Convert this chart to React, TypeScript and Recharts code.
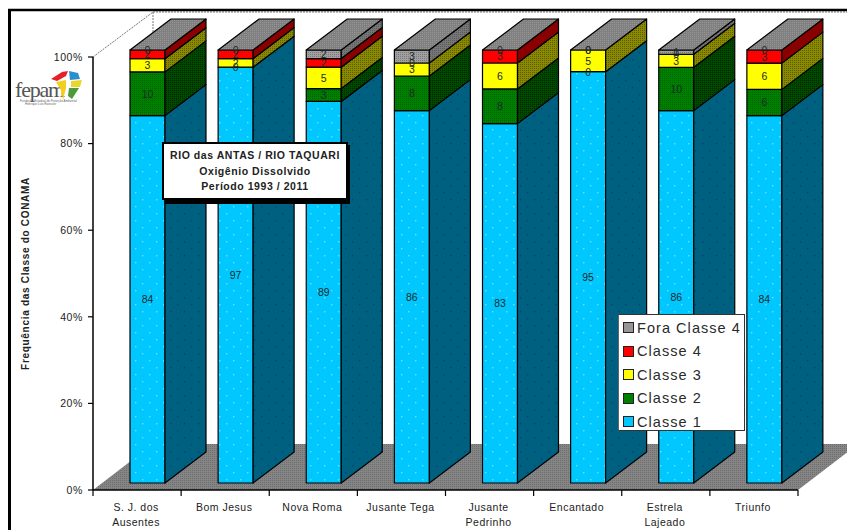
import React from 'react';
import { BarChart, Bar, XAxis, YAxis, Legend, LabelList, usePlotArea } from 'recharts';

const categories = [
  'S. J. dos\nAusentes',
  'Bom Jesus',
  'Nova Roma',
  'Jusante Tega',
  'Jusante\nPedrinho',
  'Encantado',
  'Estrela\nLajeado',
  'Triunfo',
];
const classe1 = [84, 97, 89, 86, 83, 95, 86, 84];
const classe2 = [10, 0, 3, 8, 8, 0, 10, 6];
const classe3 = [3, 2, 5, 3, 6, 5, 3, 6];
const classe4 = [2, 2, 2, 0, 3, 0, 0, 3];
const foraClasse4 = [0, 0, 2, 3, 0, 0, 1, 0];
const yTicks = [0, 0.2, 0.4, 0.6, 0.8, 1];
const boxLines = ['RIO das ANTAS / RIO TAQUARI', 'Oxigênio Dissolvido', 'Período 1993 / 2011'];

const tableData = categories.map((name, i) => ({
  name,
  classe1: classe1[i],
  classe2: classe2[i],
  classe3: classe3[i],
  classe4: classe4[i],
  fora: foraClasse4[i],
}));

const seriesList = [
  { key: 'classe1', name: 'Classe 1', front: 'url(#cyanFront)', side: 'url(#cyanSide)', swatch: '#00c8ff' },
  { key: 'classe2', name: 'Classe 2', front: 'url(#greenFront)', side: 'url(#greenSide)', swatch: '#008000' },
  { key: 'classe3', name: 'Classe 3', front: '#ffff00', side: 'url(#yellowSide)', swatch: '#ffff00' },
  { key: 'classe4', name: 'Classe 4', front: '#ff0000', side: '#8a0000', swatch: '#ff0000' },
  { key: 'fora', name: 'Fora Classe 4', front: 'url(#grayFront)', side: 'url(#graySide)', swatch: '#969696' },
];

const FONT = '"Liberation Sans", Arial, sans-serif';
const WIDTH = 847;
const HEIGHT = 530;
const MARGIN = { top: 57, right: 49, bottom: 0, left: 0 };
const AXIS_W = 93;
const BAND = (WIDTH - AXIS_W - MARGIN.right) / categories.length;

// fake 3D: full floor depth, and the depth of each column sitting on it
const FLOOR_DX = 60;
const FLOOR_DY = 46;
const BAR_DX = 41;
const BAR_DY = 31;
const BAR_SHIFT_X = 10;
const BAR_SHIFT_Y = 7;

const dots = (id: string, bg: string, dot: string, size = 2, op = 1) => (
  <pattern id={id} width={size} height={size} patternUnits="userSpaceOnUse">
    <rect width={size} height={size} fill={bg} />
    <rect width={1} height={1} fill={dot} opacity={op} />
  </pattern>
);

const sparse = (id: string, bg: string, dot: string) => (
  <pattern id={id} width={14} height={14} patternUnits="userSpaceOnUse">
    <rect width={14} height={14} fill={bg} />
    <rect x={2} y={3} width={1.4} height={1.4} fill={dot} />
    <rect x={9} y={10} width={1.4} height={1.4} fill={dot} />
  </pattern>
);

const Patterns = () => (
  <defs>
    {sparse('cyanFront', '#00c8ff', '#66e0ff')}
    {sparse('cyanSide', '#00607f', '#003f8a')}
    {dots('greenFront', '#008000', '#005a00', 2, 0.7)}
    {dots('greenSide', '#004a00', '#002400')}
    {dots('yellowSide', '#8a8a00', '#5c5c00')}
    {dots('grayFront', '#a0a0a0', '#7a7a7a')}
    {dots('graySide', '#767676', '#5a5a5a')}
    {dots('topFace', '#808080', '#959595')}
    {dots('floorFace', '#858585', '#6e6e6e')}
  </defs>
);

const BackWalls = () => {
  const plot = usePlotArea();
  if (!plot) return null;
  const { x, y, width, height } = plot;
  const bottom = y + height;
  return (
    <g>
      <polygon
        points={`${x},${bottom} ${x + width},${bottom} ${x + width + FLOOR_DX},${bottom - FLOOR_DY} ${x + FLOOR_DX},${bottom - FLOOR_DY}`}
        fill="url(#floorFace)"
      />
      <path
        d={`M${x},${y} L${x + FLOOR_DX},${y - FLOOR_DY + 1} L${WIDTH},${y - FLOOR_DY + 1} M${x + FLOOR_DX},${y - FLOOR_DY + 1} L${x + FLOOR_DX},${bottom - FLOOR_DY}`}
        fill="none"
        stroke="#777"
        strokeWidth={1}
        strokeDasharray="2 1"
      />
    </g>
  );
};

const makeColumn = (front: string, side: string, withTop: boolean) => (props: any) => {
  const { width: w } = props;
  const x = props.x + BAR_SHIFT_X;
  const y = props.y - BAR_SHIFT_Y;
  const h = props.height;
  return (
    <g stroke="#000" strokeWidth={1.2} strokeLinejoin="round">
      {h > 0 && <rect x={x} y={y} width={w} height={h} fill={front} />}
      {h > 0 && (
        <polygon
          points={`${x + w},${y} ${x + w + BAR_DX},${y - BAR_DY} ${x + w + BAR_DX},${y + h - BAR_DY} ${x + w},${y + h}`}
          fill={side}
        />
      )}
      {withTop && (
        <polygon
          points={`${x},${y} ${x + BAR_DX},${y - BAR_DY} ${x + w + BAR_DX},${y - BAR_DY} ${x + w},${y}`}
          fill="url(#topFace)"
        />
      )}
    </g>
  );
};

const SegmentLabel = (props: any) => {
  const { x, y, width, height, value } = props;
  return (
    <text
      x={x + width / 2 + BAR_SHIFT_X}
      y={y + height / 2 - BAR_SHIFT_Y}
      textAnchor="middle"
      dominantBaseline="central"
      fontFamily={FONT}
      fontSize={10.5}
      fill="#1c2a2a"
    >
      {value}
    </text>
  );
};

const CategoryTick = (props: any) => {
  const { x, y, payload, index } = props;
  const left = x - BAND / 2;
  const axisY = y - 8;
  return (
    <g>
      <line x1={left} y1={axisY} x2={left} y2={axisY + 6} stroke="#000" strokeWidth={1.2} />
      {index === categories.length - 1 && (
        <line x1={left + BAND} y1={axisY} x2={left + BAND} y2={axisY + 6} stroke="#000" strokeWidth={1.2} />
      )}
      {String(payload.value)
        .split('\n')
        .map((line, i) => (
          <text
            key={line}
            x={x - 1}
            y={axisY + 21 + i * 15}
            textAnchor="middle"
            fontFamily={FONT}
            fontSize={10.5}
            letterSpacing={0.5}
            fill="#222"
          >
            {line}
          </text>
        ))}
    </g>
  );
};

const LegendBox = () => (
  <div
    style={{
      width: 127,
      height: 117,
      boxSizing: 'border-box',
      background: '#fff',
      border: '1px solid #333',
      borderLeftColor: '#666',
      padding: '1px 0 0 4px',
      fontFamily: FONT,
      fontSize: 14.5,
      letterSpacing: 1.05,
      color: '#2a2a2a',
    }}
  >
    {[...seriesList].reverse().map((s) => (
      <div key={s.key} style={{ display: 'flex', alignItems: 'center', height: 23.5, whiteSpace: 'nowrap' }}>
        <span
          style={{
            width: 11,
            height: 11,
            boxSizing: 'border-box',
            background: s.swatch,
            border: '1.5px solid #222',
            marginRight: 3,
          }}
        />
        {s.name}
      </div>
    ))}
  </div>
);

// title box sits over the columns, so it gets its own layer above the chart
const InfoBox = () => (
  <svg
    width={WIDTH}
    height={HEIGHT}
    style={{ position: 'absolute', left: 0, top: 0, pointerEvents: 'none' }}
  >
    <rect x={165} y={145} width={185} height={59} fill="#000" />
    <rect x={163} y={143} width={184} height={56} fill="#fff" stroke="#000" strokeWidth={2} />
    {boxLines.map((line, i) => (
      <text
        key={line}
        x={255}
        y={159 + i * 15.5}
        textAnchor="middle"
        fontFamily={FONT}
        fontSize={10.5}
        fontWeight={700}
        letterSpacing={0.55}
        fill="#222"
      >
        {line}
      </text>
    ))}
  </svg>
);

const FepamLogo = () => (
  <g>
    <text x={15} y={97} fontFamily='"Liberation Serif", serif' fontSize={22} letterSpacing={-1.2} fill="#555">
      fepam
    </text>
    <path d="M51 79 L62 72 L68 71 L66 76 L57 81 Z" fill="#e8202a" />
    <path d="M69 71 L78 73 L80 79 L70 80 Z" fill="#2a8fd0" />
    <path d="M56 82 L66 80 L66 88 L63 100 L61 90 Z" fill="#f2cf1e" />
    <path d="M71 81 L82 80 L80 87 L71 87 Z" fill="#e8d82a" />
    <path d="M69 88 L79 88 L72 99 L68 96 Z" fill="#4d9a3a" />
    {['Fundação Estadual de Proteção Ambiental', 'Henrique Luis Roessler'].map((t, i) => (
      <text key={t} x={i ? 25 : 20} y={101.5 + i * 3} fontFamily={FONT} fontSize={3} fill="#666">
        {t}
      </text>
    ))}
  </g>
);

const Frame = () => (
  <g>
    <line x1={9.5} y1={9} x2={9.5} y2={HEIGHT} stroke="#000" strokeWidth={3} />
    <line x1={8} y1={10} x2={WIDTH} y2={10} stroke="#000" strokeWidth={2.4} />
  </g>
);

export default function App() {
  return (
    <div style={{ position: 'absolute', left: 0, top: 0, width: WIDTH, height: HEIGHT, background: '#fff' }}>
      <BarChart
        width={WIDTH}
        height={HEIGHT}
        data={tableData}
        margin={MARGIN}
        stackOffset="expand"
        barSize={35}
      >
        <Patterns />
        <BackWalls />
        <Frame />
        <FepamLogo />
        <XAxis
          dataKey="name"
          interval={0}
          tickLine={false}
          height={40}
          axisLine={{ stroke: '#000', strokeWidth: 1.5 }}
          tick={<CategoryTick />}
        />
        <YAxis
          width={AXIS_W}
          domain={[0, 1]}
          ticks={yTicks}
          tickSize={5}
          tickMargin={5}
          tickFormatter={(v: number) => `${Math.round(v * 100)}%`}
          axisLine={{ stroke: '#000', strokeWidth: 1.5 }}
          tickLine={{ stroke: '#000', strokeWidth: 1.2 }}
          tick={{ fontFamily: FONT, fontSize: 10.5, letterSpacing: 0.6, fill: '#222' }}
          label={{
            value: 'Frequência das Classe do CONAMA',
            angle: -90,
            position: 'insideLeft',
            offset: 25,
            style: { fontFamily: FONT, fontSize: 10, fontWeight: 700, letterSpacing: 0.7, fill: '#222', textAnchor: 'middle' },
          }}
        />
        <Legend
          layout="horizontal"
          verticalAlign="middle"
          align="center"
          content={<LegendBox />}
          wrapperStyle={{ position: 'absolute', left: 618, top: 314, width: 127, height: 117 }}
        />
        {seriesList.map((s, i) => (
          <Bar
            key={s.key}
            dataKey={s.key}
            name={s.name}
            stackId="freq"
            fill={s.swatch}
            isAnimationActive={false}
            shape={makeColumn(s.front, s.side, i === seriesList.length - 1)}
          >
            <LabelList dataKey={s.key} content={<SegmentLabel />} />
          </Bar>
        ))}
      </BarChart>
      <InfoBox />
    </div>
  );
}
